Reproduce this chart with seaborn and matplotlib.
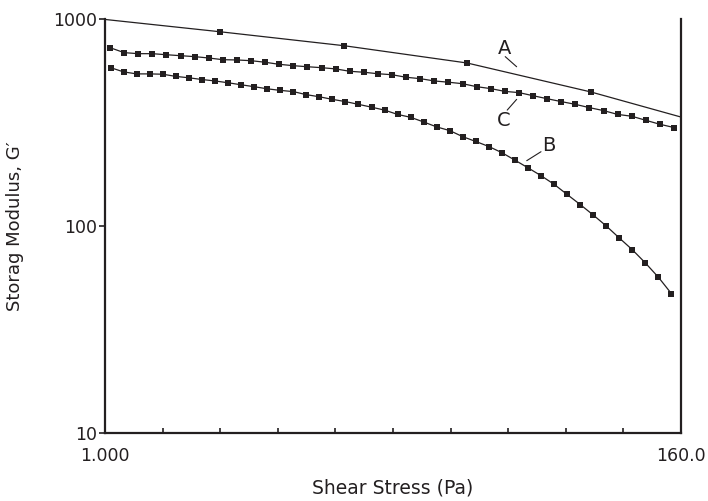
import numpy as np
import pandas as pd
import seaborn as sns
import matplotlib.pyplot as plt

# --- Data (log-log rheology sweep) ---
a_stress = [1.0, 2.75, 8.22, 24.3, 72.4, 160.0]
a_modulus = [995, 868, 743, 613, 444, 336]

b_stress = [1.051, 1.179, 1.323, 1.484, 1.665, 1.867, 2.095, 2.350, 2.636, 2.958,
            3.318, 3.722, 4.175, 4.684, 5.254, 5.894, 6.612, 7.417, 8.318, 9.331,
            10.47, 11.74, 13.17, 14.78, 16.58, 18.60, 20.86, 23.40, 26.25, 29.45,
            33.03, 37.05, 41.56, 46.63, 52.31, 58.67, 65.82, 73.84, 82.83, 92.92,
            104.2, 116.9, 131.2, 147.1]
b_modulus = [582, 555, 543, 543, 541, 528, 520, 510, 502, 492,
             481, 471, 460, 452, 446, 431, 421, 409, 399, 387,
             375, 363, 346, 335, 318, 301, 289, 270, 256, 242,
             226, 208, 191, 175, 159, 142, 127, 113, 100, 87.5,
             76.8, 66.3, 56.5, 47.1]

c_stress = [1.045, 1.183, 1.340, 1.517, 1.718, 1.945, 2.203, 2.494, 2.824, 3.198,
            3.621, 4.100, 4.643, 5.256, 5.952, 6.739, 7.631, 8.641, 9.781, 11.08,
            12.54, 14.20, 16.08, 18.20, 20.61, 23.34, 26.43, 29.93, 33.88, 38.37,
            43.45, 49.19, 55.70, 63.07, 71.42, 80.86, 91.56, 103.7, 117.4, 132.9,
            150.5]
c_modulus = [727, 688, 680, 680, 672, 665, 658, 648, 636, 634,
             629, 618, 604, 595, 588, 582, 574, 559, 553, 544,
             538, 523, 515, 502, 495, 487, 471, 461, 447, 441,
             426, 412, 399, 387, 373, 361, 346, 339, 324, 310,
             299]

df_a = pd.DataFrame({"stress": a_stress, "modulus": a_modulus})
df_b = pd.DataFrame({"stress": b_stress, "modulus": b_modulus})
df_c = pd.DataFrame({"stress": c_stress, "modulus": c_modulus})

sns.set_style("ticks")
plt.rcParams["font.family"] = ["DejaVu Sans"]

ink = "#231f20"
fig = plt.figure(figsize=(7.08, 5.01), dpi=100)
ax = fig.add_axes([105 / 708, 1 - 433 / 501, 576 / 708, 414 / 501])

# A: line with sparse markers (no marker at the two ends)
sns.lineplot(data=df_a, x="stress", y="modulus", ax=ax, color=ink, lw=0.9,
             marker="s", markersize=4.2, markeredgewidth=0, markevery=[1, 2, 3, 4])
sns.lineplot(data=df_b, x="stress", y="modulus", ax=ax, color=ink, lw=0.9,
             marker="s", markersize=4.2, markeredgewidth=0)
sns.lineplot(data=df_c, x="stress", y="modulus", ax=ax, color=ink, lw=0.9,
             marker="s", markersize=4.2, markeredgewidth=0)

ax.set_xscale("log")
ax.set_yscale("log")
ax.set_xlim(1, 160)
ax.set_ylim(10, 1000)

# curve labels with leader lines
lab_kw = dict(fontsize=14, color=ink, ha="center", va="center")
ax.text(33.9, 724, "A", **lab_kw)
ax.plot([34.0, 37.6], [658, 588], color=ink, lw=0.8)
ax.text(33.4, 325, "C", **lab_kw)
ax.plot([34.6, 37.6], [363, 409], color=ink, lw=0.8)
ax.text(50.0, 246, "B", **lab_kw)
ax.plot([46.6, 41.1], [228.5, 206.8], color=ink, lw=0.8)

# axes styling
xt = np.geomspace(1, 160, 11)
ax.set_xticks(xt)
ax.set_xticklabels(["1.000"] + [""] * 9 + ["160.0"])
ax.xaxis.set_minor_locator(plt.NullLocator())
ax.set_yticks([10, 100, 1000])
ax.set_yticklabels(["10", "100", "1000"])
ax.yaxis.set_minor_locator(plt.NullLocator())
ax.tick_params(axis="x", direction="in", length=3.5, width=1.2, color=ink,
               labelsize=12.5, labelcolor=ink, pad=10)
ax.tick_params(axis="y", direction="out", length=4, width=1.2, color=ink,
               labelsize=12.5, labelcolor=ink, pad=2)

for side in ["left", "bottom", "right"]:
    ax.spines[side].set_color(ink)
    ax.spines[side].set_linewidth(1.6)
ax.spines["top"].set_visible(False)

ax.set_xlabel("Shear Stress (Pa)", fontsize=13.5, color=ink, labelpad=10)
ax.set_ylabel("Storag Modulus, G\u2032", fontsize=13, color=ink, labelpad=21)

fig.savefig("out.png", dpi=100)
